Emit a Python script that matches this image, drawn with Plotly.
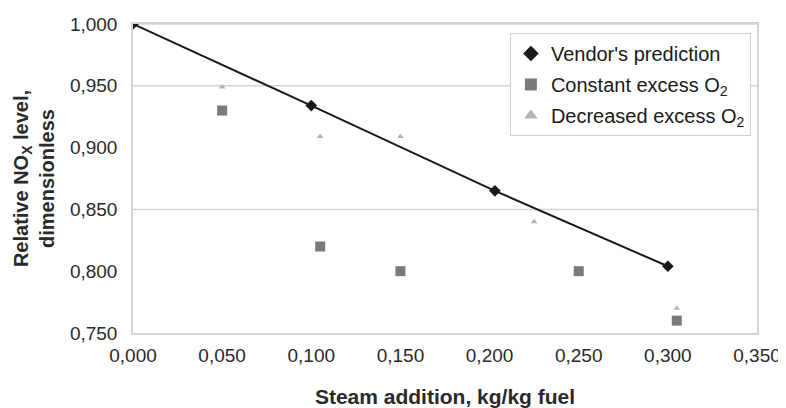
import plotly.graph_objects as go

# Valores
vendor_x = [0.000, 0.100, 0.203, 0.300]
vendor_y = [1.000, 0.934, 0.865, 0.804]

const_x = [0.050, 0.105, 0.150, 0.250, 0.305]
const_y = [0.930, 0.820, 0.800, 0.800, 0.760]

decr_x = [0.050, 0.105, 0.150, 0.225, 0.305]
decr_y = [0.949, 0.909, 0.909, 0.840, 0.770]

grid_y = [1.000, 0.950, 0.850]

fig = go.Figure()
# linha do fornecedor (sem legenda) + marcadores (com legenda)
fig.add_trace(go.Scatter(x=vendor_x, y=vendor_y, mode='lines', showlegend=False,
                         line=dict(color='#1a1a1a', width=2)))
fig.add_trace(go.Scatter(x=vendor_x, y=vendor_y, mode='markers', name="Vendor's prediction",
                         legendgroup='a',
                         marker=dict(symbol='diamond', size=9, color='#1a1a1a')))
fig.add_trace(go.Scatter(x=const_x, y=const_y, mode='markers', name='Constant excess O<sub>2</sub>',
                         legendgroup='b',
                         marker=dict(symbol='square', size=10, color='#7a7a7a')))
fig.add_trace(go.Scatter(x=decr_x, y=decr_y, mode='markers', name='Decreased excess O<sub>2</sub>',
                         legendgroup='c',
                         marker=dict(symbol='triangle-up', size=6, color='#b5b5b5')))

for g in grid_y:
    fig.add_hline(y=g, line=dict(color='#d4d4d4', width=1.5), layer='below')

fig.update_layout(
    width=778, height=400,
    margin=dict(l=125, r=29, t=16, b=75),
    paper_bgcolor='white', plot_bgcolor='white',
    separators=',.',
    font=dict(family='Liberation Sans, Arial, sans-serif', color='#2a2a2a'),
    showlegend=True,
    legend=dict(x=0.604, y=0.971, xanchor='left', yanchor='top',
                bgcolor='white', bordercolor='#d0d0d0', borderwidth=1,
                font=dict(size=20, color='#1a1a1a'), itemsizing='constant',
                tracegroupgap=2, itemwidth=30),
)
fig.update_xaxes(range=[0, 0.35], dtick=0.05, tickformat='.3f', showgrid=False,
                 showline=True, linecolor='#d4d4d4', linewidth=1.5, mirror=True,
                 zeroline=False, tickfont=dict(size=19), ticklabelstandoff=4,
                 ticklabeloverflow='allow', automargin=False,
                 title=dict(text='<b>Steam addition, kg/kg fuel</b>', font=dict(size=21), standoff=27))
fig.update_yaxes(range=[0.75, 1.0], dtick=0.05, tickformat='.3f', showgrid=False,
                 showline=True, linecolor='#d4d4d4', linewidth=1.5, mirror=True,
                 zeroline=False, tickfont=dict(size=19), ticklabelstandoff=10,
                 ticklabeloverflow='allow', automargin=False,
                 title=dict(text='<b>Relative NO<sub>X</sub> level,<br>dimensionless</b>',
                            font=dict(size=20), standoff=10))

fig.write_html("out.html")
